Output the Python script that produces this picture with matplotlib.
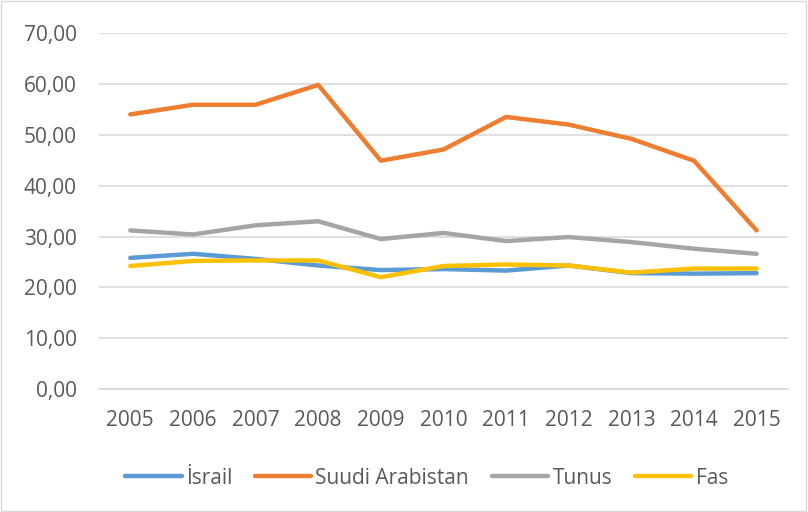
import matplotlib.pyplot as plt
from matplotlib.ticker import FuncFormatter
from matplotlib.patches import Rectangle

# Veriler
years = ['2005', '2006', '2007', '2008', '2009', '2010', '2011', '2012', '2013', '2014', '2015']
israil = [25.8, 26.6, 25.6, 24.3, 23.4, 23.6, 23.3, 24.3, 22.8, 22.7, 22.8]
suudi = [54.0, 55.9, 55.9, 59.8, 44.9, 47.1, 53.5, 52.0, 49.2, 44.9, 31.2]
tunus = [31.2, 30.4, 32.2, 33.0, 29.5, 30.7, 29.1, 29.9, 28.9, 27.6, 26.6]
fas = [24.2, 25.2, 25.3, 25.3, 22.0, 24.2, 24.5, 24.3, 22.9, 23.7, 23.7]

series = [
    ('İsrail', israil, '#5B9BD5'),
    ('Suudi Arabistan', suudi, '#ED7D31'),
    ('Tunus', tunus, '#A5A5A5'),
    ('Fas', fas, '#FFC000'),
]

plt.rcParams['font.family'] = ['Open Sans', 'DejaVu Sans']

fig = plt.figure(figsize=(8.08, 5.12), dpi=100)
ax = fig.add_axes([0.1225, 0.24, 0.8527, 0.6955])

x = range(len(years))
for name, vals, color in series:
    ax.plot(x, vals, color=color, lw=3.2, label=name, solid_capstyle='round')

ax.set_ylim(0, 70)
ax.set_yticks(range(0, 71, 10))
ax.yaxis.set_major_formatter(FuncFormatter(lambda v, p: f'{v:.2f}'.replace('.', ',')))
ax.set_xlim(-0.5, len(years) - 0.5)
ax.set_xticks(list(x))
ax.set_xticklabels(years)

ax.grid(axis='y', color='#D9D9D9', lw=1.2)
ax.set_axisbelow(True)
for s in ['top', 'right', 'left']:
    ax.spines[s].set_visible(False)
ax.spines['bottom'].set_color('#D9D9D9')
ax.spines['bottom'].set_linewidth(1.2)
ax.tick_params(axis='y', length=0, labelsize=15, colors='#595959', pad=16)
ax.tick_params(axis='x', length=0, labelsize=15, colors='#595959', pad=15)

fig.legend(loc='center', bbox_to_anchor=(0.528, 0.066), ncol=4, frameon=False,
           fontsize=15, labelcolor='#595959', handlelength=2.7, columnspacing=1.1,
           handletextpad=0.2)

fig.patches.append(Rectangle((0.001, 0.001), 0.997, 0.997, transform=fig.transFigure,
                             fill=False, edgecolor='#D9D9D9', lw=1))

fig.savefig('out.png', dpi=100)
